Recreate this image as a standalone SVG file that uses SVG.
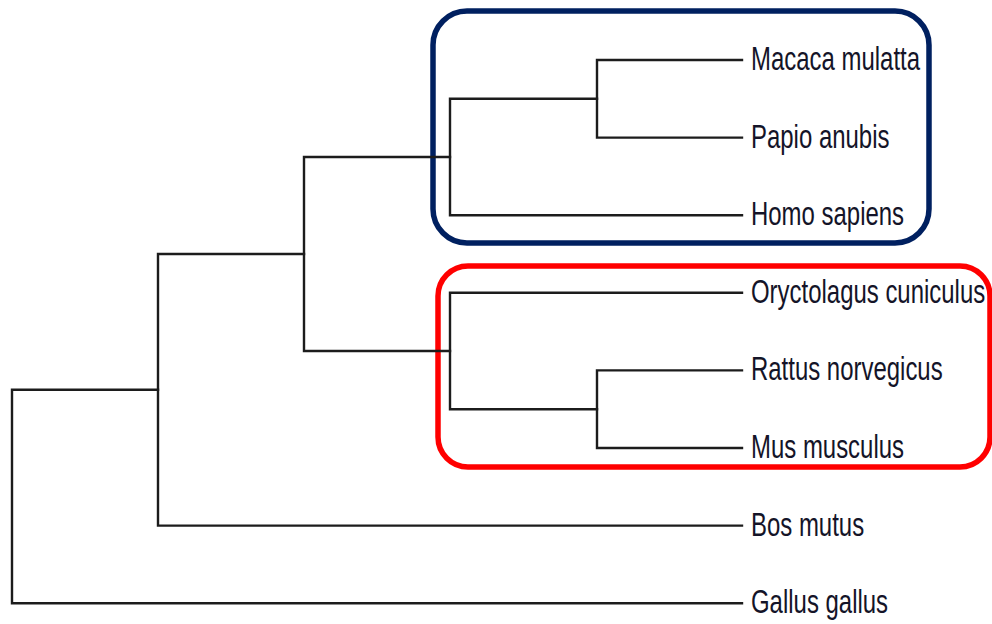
<svg xmlns="http://www.w3.org/2000/svg" width="992" height="624" viewBox="0 0 992 624">
  <style>
    .branch { fill: none; stroke: #1c1c1c; stroke-width: 2.4; stroke-linejoin: miter; stroke-linecap: square; }
    .label { font-family: "Liberation Sans", Arial, sans-serif; font-size: 33.5px; fill: #141428; }
    .clade { fill: none; stroke-width: 5.5; }
  </style>
  <rect x="0" y="0" width="992" height="624" fill="#ffffff"/>

  <!-- clade highlight boxes -->
  <rect id="primates-box" class="clade" x="433" y="11" width="496" height="232" rx="34" ry="34" stroke="#002060"/>
  <rect id="rodents-box" class="clade" x="438" y="266" width="552" height="201" rx="30" ry="30" stroke="#ff0000"/>

  <!-- tree branches -->
  <g id="connectors">
    <path class="branch" d="M742 603.2 H12 V389.8 H158"/>
    <path class="branch" d="M742 525.6 H158 V254 H304"/>
    <path class="branch" d="M450 157 H304 V351 H450"/>
    <path class="branch" d="M742 215.2 H450 V98.8 H597"/>
    <path class="branch" d="M742 60 H597 V137.6 H742"/>
    <path class="branch" d="M742 292.8 H450 V409.2 H597"/>
    <path class="branch" d="M742 370.4 H597 V448 H742"/>
  </g>

  <!-- leaf labels -->
  <g id="macaca"><text class="label" transform="translate(751,70) scale(0.715,1)">Macaca mulatta</text></g>
  <g id="papio"><text class="label" transform="translate(751,147.6) scale(0.715,1)">Papio anubis</text></g>
  <g id="homo"><text class="label" transform="translate(751,225.2) scale(0.715,1)">Homo sapiens</text></g>
  <g id="oryctolagus"><text class="label" transform="translate(751,302.8) scale(0.715,1)">Oryctolagus cuniculus</text></g>
  <g id="rattus"><text class="label" transform="translate(751,380.4) scale(0.715,1)">Rattus norvegicus</text></g>
  <g id="mus"><text class="label" transform="translate(751,458) scale(0.715,1)">Mus musculus</text></g>
  <g id="bos"><text class="label" transform="translate(751,535.6) scale(0.715,1)">Bos mutus</text></g>
  <g id="gallus"><text class="label" transform="translate(751,613.2) scale(0.715,1)">Gallus gallus</text></g>
</svg>
